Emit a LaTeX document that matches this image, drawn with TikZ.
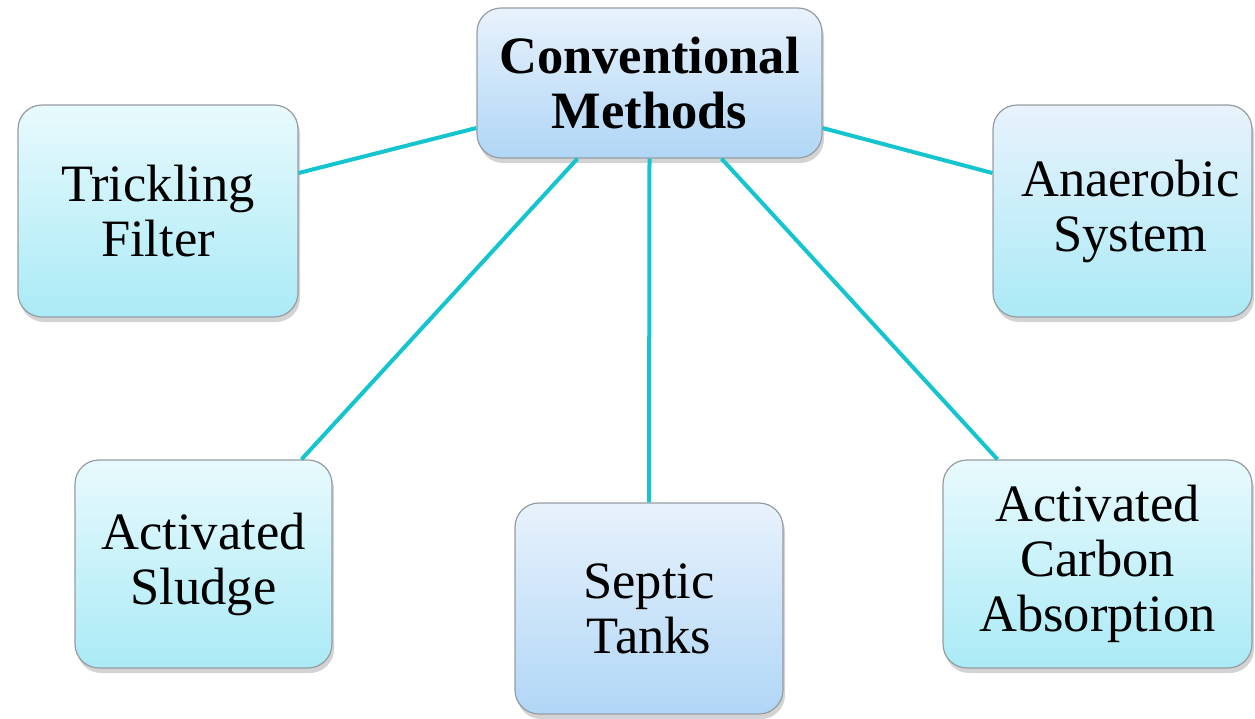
\documentclass[tikz,border=0pt]{standalone}
\usepackage{fontspec}
\setmainfont{Liberation Serif}
\usetikzlibrary{shadows}
\definecolor{linkcyan}{RGB}{20,196,206}
\definecolor{edgegray}{RGB}{150,156,162}
\definecolor{cyantop}{RGB}{232,250,253}
\definecolor{cyanbot}{RGB}{170,234,246}
\definecolor{bluetop}{RGB}{232,242,252}
\definecolor{bluebot}{RGB}{176,214,246}

\tikzset{
    box/.style={draw=edgegray, line width=1.2pt, rounded corners=24pt,
        top color=cyantop, bottom color=cyanbot, align=center,
        font=\fontsize{52.5}{55}\selectfont, inner sep=0pt,
        drop shadow={shadow xshift=2pt, shadow yshift=-5pt, opacity=0.35}},
    hub/.style={box, top color=bluetop, bottom color=bluebot,
        font=\fontsize{52.5}{55}\selectfont\bfseries},
    link/.style={draw=linkcyan, line width=4pt}
}

\begin{document}
\begin{tikzpicture}[x=1pt, y=-1pt]
    \useasboundingbox (0,0) rectangle (1255,718);
    \node[hub, minimum width=345pt, minimum height=150pt] (cm) at (649.5,83) {Conventional\\Methods};
    \node[box, minimum width=280pt, minimum height=212pt] (tf) at (158,211) {Trickling\\Filter};
    \node[box, minimum width=259pt, minimum height=212pt, top color=bluetop, bottom color=cyanbot] (an) at (1122.5,211) {\hspace*{16pt}Anaerobic\\\hspace*{16pt}System};
    \node[box, minimum width=257pt, minimum height=208pt] (as) at (203.5,564) {Activated\\Sludge};
    \node[box, minimum width=268pt, minimum height=211pt, top color=bluetop, bottom color=bluebot] (st) at (649,608.5) {Septic\\Tanks};
    \node[box, minimum width=309pt, minimum height=208pt] (ac) at (1097.5,564) {Activated\\Carbon\\Absorption};
    \draw[link] ([yshift=-45pt]cm.west) -- ([yshift=38pt]tf.east);
    \draw[link] ([yshift=-45pt]cm.east) -- ([yshift=38pt]an.west);
    \draw[link] ([xshift=-72pt]cm.south) -- ([xshift=98pt]as.north);
    \draw[link] (cm.south) -- (st.north);
    \draw[link] ([xshift=72pt]cm.south) -- ([xshift=-100pt]ac.north);
\end{tikzpicture}
\end{document}
